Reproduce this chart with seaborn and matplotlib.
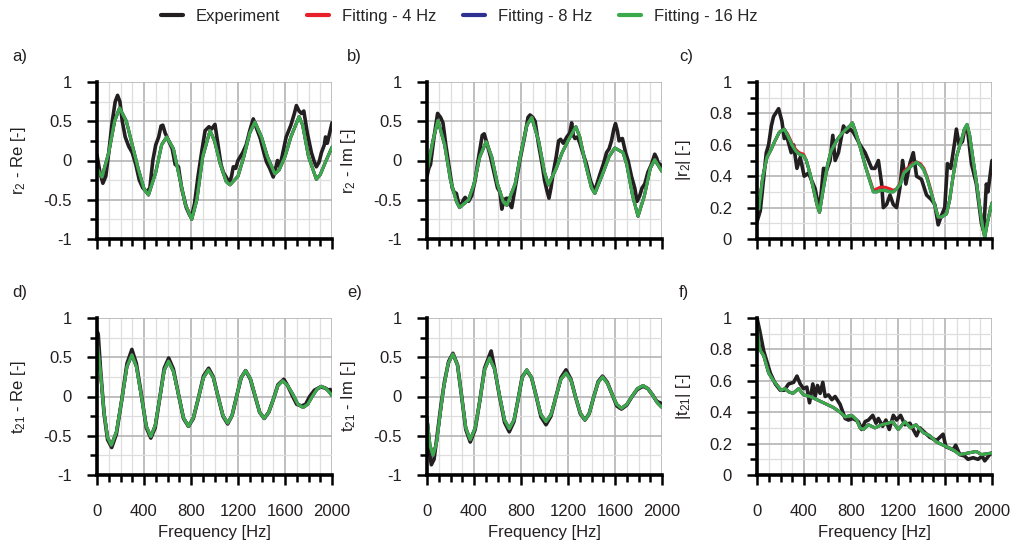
import numpy as np
import pandas as pd
import matplotlib
matplotlib.use("Agg")
import matplotlib.pyplot as plt
from matplotlib.ticker import MultipleLocator
from matplotlib.lines import Line2D
import seaborn as sns

# ---------------- data ----------------
# a) r2 - Re
a_exp_f = [0, 25, 50, 75, 100, 130, 155, 175, 195, 215, 240, 270, 300, 330, 360, 390, 424, 450, 475, 500,
           525, 545, 560, 580, 610, 640, 665, 693, 720, 760, 790, 806, 830, 860, 890, 920, 953, 975, 1004,
           1030, 1055, 1075, 1103, 1126, 1145, 1160, 1180, 1200, 1240, 1270, 1300, 1330, 1360, 1390, 1420,
           1443, 1470, 1500, 1520, 1536, 1555, 1575, 1610, 1650, 1680, 1697, 1720, 1740, 1760, 1790, 1825,
           1850, 1867, 1890, 1910, 1935, 1945, 1960, 1980, 2000]
a_exp_v = [0.07, -0.15, -0.29, -0.20, 0.10, 0.50, 0.75, 0.83, 0.75, 0.50, 0.30, 0.18, 0.10, -0.05, -0.25,
           -0.35, -0.40, -0.35, 0.00, 0.20, 0.30, 0.44, 0.45, 0.35, 0.25, 0.15, -0.05, -0.08, -0.35, -0.60,
           -0.70, -0.71, -0.55, -0.20, 0.10, 0.38, 0.43, 0.40, 0.46, 0.20, -0.05, -0.15, -0.22, -0.29, -0.20,
           -0.08, -0.10, 0.00, 0.10, 0.20, 0.38, 0.53, 0.40, 0.28, 0.10, -0.02, -0.10, -0.21, -0.10, 0.00,
           -0.08, 0.05, 0.30, 0.45, 0.60, 0.70, 0.63, 0.60, 0.63, 0.35, 0.10, -0.02, -0.08, -0.02, 0.10,
           0.20, 0.30, 0.22, 0.35, 0.48]
a_fit_f = [0, 42, 100, 150, 192, 250, 300, 350, 400, 438, 500, 550, 594, 650, 700, 750, 806, 850, 900, 962,
           1000, 1050, 1100, 1132, 1200, 1250, 1300, 1344, 1400, 1450, 1513, 1550, 1600, 1650, 1720, 1750,
           1800, 1867, 1900, 1950, 2000]
a_fit_v = [-0.10, -0.21, 0.10, 0.50, 0.67, 0.50, 0.20, -0.10, -0.36, -0.44, -0.15, 0.20, 0.30, 0.15, -0.20,
           -0.55, -0.75, -0.50, 0.05, 0.38, 0.25, -0.05, -0.27, -0.31, -0.20, 0.05, 0.35, 0.49, 0.30, 0.05,
           -0.17, -0.12, 0.05, 0.30, 0.56, 0.45, 0.05, -0.24, -0.18, 0.00, 0.17]

# b) r2 - Im
b_exp_f = [0, 15, 30, 60, 90, 115, 136, 160, 190, 215, 230, 250, 270, 290, 310, 325, 340, 354, 380, 410, 440,
           470, 487, 510, 540, 570, 600, 620, 637, 655, 679, 700, 721, 750, 790, 830, 860, 877, 900, 920, 950,
           980, 1000, 1020, 1038, 1055, 1075, 1100, 1120, 1137, 1160, 1190, 1215, 1231, 1245, 1259, 1280, 1301,
           1330, 1358, 1390, 1415, 1429, 1450, 1471, 1500, 1528, 1550, 1570, 1590, 1604, 1620, 1635, 1650,
           1663, 1690, 1711, 1740, 1768, 1788, 1810, 1830, 1853, 1880, 1910, 1938, 1955, 1966, 1985, 2000]
b_exp_v = [-0.20, -0.10, -0.05, 0.30, 0.60, 0.55, 0.48, 0.20, -0.10, -0.35, -0.40, -0.42, -0.55, -0.58,
           -0.50, -0.47, -0.50, -0.52, -0.45, -0.25, 0.05, 0.32, 0.34, 0.22, 0.05, -0.15, -0.35, -0.40, -0.62,
           -0.50, -0.48, -0.55, -0.60, -0.35, 0.00, 0.30, 0.55, 0.58, 0.55, 0.50, 0.20, -0.05, -0.25, -0.38,
           -0.48, -0.35, -0.15, 0.05, 0.25, 0.27, 0.22, 0.30, 0.35, 0.48, 0.32, 0.28, 0.30, 0.22, 0.08, -0.05,
           -0.25, -0.35, -0.38, -0.28, -0.18, -0.05, 0.10, 0.15, 0.25, 0.40, 0.47, 0.38, 0.25, 0.27, 0.28,
           0.10, 0.00, -0.20, -0.35, -0.52, -0.45, -0.35, -0.30, -0.15, -0.05, 0.08, 0.03, -0.03, -0.05, -0.10]
b_fit_f = [0, 50, 93, 150, 200, 250, 277, 354, 400, 450, 504, 550, 600, 650, 679, 750, 800, 850, 891, 950,
           1000, 1033, 1100, 1150, 1200, 1267, 1300, 1350, 1400, 1429, 1500, 1550, 1598, 1669, 1700, 1750,
           1796, 1850, 1900, 1938, 2000]
b_fit_v = [-0.14, 0.25, 0.51, 0.20, -0.25, -0.52, -0.60, -0.50, -0.30, 0.05, 0.24, 0.05, -0.30, -0.53, -0.57,
           -0.30, 0.10, 0.45, 0.55, 0.25, -0.15, -0.31, -0.10, 0.10, 0.25, 0.43, 0.30, -0.05, -0.35, -0.42,
           -0.15, 0.05, 0.16, 0.10, -0.05, -0.45, -0.71, -0.45, -0.10, 0.01, -0.14]

# c) |r2|
c_exp_f = [0, 28, 79, 99, 122, 141, 184, 212, 232, 255, 291, 311, 340, 368, 402, 438, 495, 532, 566, 594,
           622, 645, 665, 693, 736, 764, 792, 820, 877, 920, 948, 976, 1004, 1033, 1061, 1075, 1103, 1132,
           1160, 1188, 1217, 1239, 1267, 1301, 1330, 1358, 1400, 1443, 1485, 1513, 1542, 1570, 1598, 1621,
           1649, 1683, 1697, 1720, 1748, 1768, 1788, 1825, 1867, 1910, 1929, 1952, 1966, 2000]
c_exp_v = [0.11, 0.18, 0.55, 0.60, 0.72, 0.78, 0.83, 0.75, 0.64, 0.65, 0.55, 0.60, 0.45, 0.52, 0.40, 0.42,
           0.32, 0.18, 0.45, 0.44, 0.50, 0.66, 0.50, 0.55, 0.72, 0.68, 0.70, 0.68, 0.60, 0.55, 0.50, 0.45,
           0.45, 0.50, 0.35, 0.20, 0.22, 0.28, 0.22, 0.20, 0.33, 0.50, 0.35, 0.48, 0.55, 0.40, 0.38, 0.28,
           0.25, 0.22, 0.09, 0.15, 0.20, 0.48, 0.45, 0.62, 0.70, 0.60, 0.62, 0.70, 0.72, 0.48, 0.35, 0.10,
           0.05, 0.35, 0.30, 0.50]
c_fit_f = [0, 15, 50, 85, 120, 150, 190, 232, 260, 297, 330, 360, 396, 420, 450, 480, 510, 532, 560, 600,
           630, 680, 720, 760, 790, 812, 840, 880, 920, 960, 990, 1020, 1050, 1090, 1130, 1160, 1190, 1220,
           1250, 1280, 1320, 1358, 1390, 1420, 1450, 1480, 1510, 1542, 1570, 1613, 1640, 1669, 1700, 1740,
           1765, 1788, 1810, 1840, 1870, 1900, 1920, 1938, 1960, 1980, 2000]
c_fit16_v = [0.22, 0.19, 0.40, 0.52, 0.57, 0.62, 0.68, 0.70, 0.66, 0.60, 0.56, 0.54, 0.53, 0.50, 0.42, 0.32,
             0.22, 0.17, 0.30, 0.47, 0.56, 0.63, 0.67, 0.70, 0.72, 0.74, 0.68, 0.58, 0.47, 0.37, 0.30, 0.30,
             0.31, 0.31, 0.30, 0.30, 0.32, 0.35, 0.42, 0.44, 0.47, 0.49, 0.47, 0.44, 0.38, 0.30, 0.22, 0.14,
             0.14, 0.16, 0.25, 0.40, 0.53, 0.63, 0.70, 0.73, 0.66, 0.50, 0.35, 0.18, 0.08, 0.01, 0.10, 0.17,
             0.23]
c_fit4_v = [0.26, 0.21, 0.40, 0.52, 0.57, 0.62, 0.68, 0.70, 0.67, 0.61, 0.57, 0.55, 0.54, 0.50, 0.42, 0.32,
            0.22, 0.17, 0.30, 0.47, 0.56, 0.63, 0.67, 0.70, 0.72, 0.74, 0.68, 0.58, 0.47, 0.38, 0.31, 0.32,
            0.33, 0.33, 0.32, 0.31, 0.32, 0.36, 0.43, 0.45, 0.48, 0.49, 0.48, 0.45, 0.39, 0.31, 0.22, 0.14,
            0.14, 0.16, 0.25, 0.40, 0.53, 0.63, 0.69, 0.72, 0.66, 0.50, 0.35, 0.18, 0.08, 0.01, 0.10, 0.17,
            0.23]

# d) t21 - Re
d_exp_f = [0, 10, 30, 60, 90, 125, 165, 210, 255, 297, 335, 378, 420, 458, 495, 533, 572, 610, 650, 693,
           736, 778, 820, 863, 906, 950, 990, 1030, 1072, 1112, 1150, 1188, 1227, 1265, 1305, 1344, 1384,
           1423, 1462, 1500, 1540, 1590, 1622, 1666, 1700, 1740, 1775, 1810, 1850, 1900, 1940, 1970, 1985, 2000]
d_exp_v = [0.83, 0.80, 0.35, -0.22, -0.55, -0.65, -0.48, -0.05, 0.42, 0.60, 0.42, 0.02, -0.40, -0.53,
           -0.40, -0.03, 0.36, 0.49, 0.35, 0.03, -0.28, -0.38, -0.28, -0.02, 0.26, 0.36, 0.25, 0.00, -0.25,
           -0.35, -0.24, 0.00, 0.24, 0.33, 0.22, 0.01, -0.20, -0.28, -0.20, -0.04, 0.15, 0.22, 0.14, 0.00,
           -0.10, -0.12, -0.10, 0.00, 0.08, 0.12, 0.11, 0.08, 0.09, 0.05]
d_fit_f = [0, 30, 60, 90, 122, 165, 210, 255, 297, 335, 378, 420, 458, 495, 533, 572, 608, 650, 693, 736,
           778, 820, 863, 906, 948, 990, 1030, 1072, 1112, 1150, 1188, 1227, 1265, 1305, 1344, 1384, 1423,
           1462, 1500, 1540, 1579, 1622, 1666, 1710, 1754, 1793, 1832, 1871, 1910, 1950, 1980, 2000]
d_fit_v = [0.72, 0.30, -0.20, -0.52, -0.62, -0.45, -0.05, 0.38, 0.53, 0.38, 0.00, -0.38, -0.51, -0.37,
           -0.03, 0.33, 0.45, 0.32, 0.03, -0.27, -0.38, -0.27, -0.02, 0.24, 0.34, 0.24, 0.00, -0.24, -0.34,
           -0.24, 0.00, 0.24, 0.33, 0.23, 0.02, -0.20, -0.28, -0.20, -0.04, 0.14, 0.20, 0.14, 0.03, -0.10,
           -0.14, -0.10, 0.00, 0.09, 0.13, 0.10, 0.05, 0.01]

# e) t21 - Im
e_exp_f = [0, 20, 37, 60, 90, 120, 150, 185, 221, 260, 295, 330, 368, 410, 450, 490, 530, 546, 575, 615,
           660, 700, 740, 775, 810, 849, 890, 930, 970, 1013, 1055, 1098, 1140, 1183, 1225, 1263, 1305, 1344,
           1380, 1420, 1457, 1494, 1535, 1575, 1615, 1655, 1700, 1745, 1790, 1839, 1880, 1920, 1950, 1966,
           1985, 2000]
e_exp_v = [-0.30, -0.70, -0.87, -0.80, -0.45, -0.10, 0.20, 0.45, 0.55, 0.40, 0.00, -0.42, -0.58, -0.42,
           -0.05, 0.36, 0.52, 0.58, 0.36, 0.02, -0.33, -0.45, -0.32, -0.04, 0.25, 0.33, 0.24, 0.00, -0.26,
           -0.36, -0.25, 0.00, 0.24, 0.34, 0.22, 0.00, -0.22, -0.30, -0.22, 0.00, 0.19, 0.26, 0.18, 0.03,
           -0.12, -0.16, -0.11, 0.00, 0.09, 0.13, 0.10, 0.02, -0.05, -0.07, -0.08, -0.12]
e_fit_f = [0, 25, 51, 80, 110, 140, 180, 221, 260, 295, 330, 368, 410, 450, 490, 532, 575, 615, 660, 700,
           740, 775, 810, 849, 890, 930, 970, 1013, 1055, 1098, 1140, 1183, 1225, 1263, 1305, 1344, 1380,
           1420, 1457, 1494, 1535, 1575, 1615, 1655, 1700, 1745, 1790, 1839, 1880, 1920, 1960, 2000]
e_fit_v = [-0.27, -0.62, -0.75, -0.60, -0.25, 0.10, 0.42, 0.54, 0.40, 0.00, -0.40, -0.55, -0.40, -0.05,
           0.34, 0.49, 0.35, 0.03, -0.30, -0.41, -0.30, -0.04, 0.24, 0.34, 0.24, 0.00, -0.23, -0.32, -0.23,
           0.00, 0.22, 0.30, 0.21, 0.00, -0.21, -0.30, -0.22, 0.00, 0.18, 0.25, 0.17, 0.03, -0.10, -0.15,
           -0.10, 0.00, 0.10, 0.14, 0.10, 0.02, -0.08, -0.14]

# f) |t21|
f_exp_f = [0, 23, 57, 113, 156, 198, 232, 269, 311, 340, 368, 396, 424, 447, 475, 495, 515, 537, 560, 580,
           608, 637, 665, 707, 750, 778, 815, 863, 891, 920, 948, 985, 1013, 1033, 1069, 1097, 1126, 1160,
           1188, 1222, 1259, 1301, 1358, 1386, 1429, 1471, 1528, 1584, 1607, 1641, 1669, 1691, 1726, 1768,
           1796, 1839, 1881, 1917, 1938, 1980, 2000]
f_exp_v = [1.00, 0.92, 0.79, 0.65, 0.58, 0.54, 0.54, 0.58, 0.59, 0.63, 0.58, 0.55, 0.56, 0.46, 0.58, 0.50,
           0.57, 0.52, 0.59, 0.50, 0.51, 0.48, 0.50, 0.45, 0.36, 0.35, 0.36, 0.34, 0.29, 0.34, 0.35, 0.38,
           0.33, 0.36, 0.31, 0.35, 0.29, 0.38, 0.35, 0.38, 0.32, 0.33, 0.25, 0.30, 0.27, 0.24, 0.22, 0.26,
           0.18, 0.17, 0.16, 0.19, 0.13, 0.12, 0.10, 0.11, 0.10, 0.12, 0.09, 0.13, 0.14]
f_fit_f = [0, 23, 57, 99, 141, 184, 204, 240, 269, 306, 354, 396, 453, 509, 594, 650, 707, 750, 806, 849,
           877, 905, 948, 1004, 1061, 1117, 1154, 1202, 1259, 1307, 1353, 1415, 1471, 1528, 1613, 1669, 1726,
           1796, 1867, 1910, 2000]
f_fit_v = [0.94, 0.80, 0.76, 0.65, 0.60, 0.56, 0.54, 0.55, 0.53, 0.52, 0.55, 0.51, 0.50, 0.48, 0.45, 0.43,
           0.40, 0.37, 0.38, 0.35, 0.30, 0.29, 0.32, 0.30, 0.32, 0.33, 0.34, 0.29, 0.34, 0.30, 0.32, 0.27,
           0.25, 0.21, 0.18, 0.16, 0.13, 0.14, 0.15, 0.13, 0.14]

legend_labels = ["Experiment", "Fitting - 4 Hz", "Fitting - 8 Hz", "Fitting - 16 Hz"]
panel_letters = ["a)", "b)", "c)", "d)", "e)", "f)"]
y_labels = ["r$_2$ - Re [-]", "r$_2$ - Im [-]", "|r$_2$| [-]",
            "t$_{21}$ - Re [-]", "t$_{21}$ - Im [-]", "|t$_{21}$| [-]"]
x_label = "Frequency [Hz]"

# ---------------- style ----------------
sns.set_theme(style="white")
plt.rcParams['font.family'] = ['Liberation Sans', 'DejaVu Sans']
plt.rcParams['mathtext.fontset'] = 'custom'
plt.rcParams['mathtext.rm'] = 'Liberation Sans'
plt.rcParams['mathtext.it'] = 'Liberation Sans'
plt.rcParams['mathtext.default'] = 'regular'

C_EXP = "#231f20"
C_4 = "#e8202a"
C_8 = "#2e3192"
C_16 = "#3aaa4a"
TXT = "#231f20"
FS = 12

fig = plt.figure(figsize=(10.14, 5.43), dpi=100)

lefts = [97 / 1014, 427 / 1014, 757 / 1014]
letter_offsets = [85 / 1014, 80 / 1014, 78 / 1014]
width = 235 / 1014
height = 157 / 543
bottoms = [1 - 239 / 543, 1 - 475 / 543]

panels = [
    (a_exp_f, a_exp_v, a_fit_f, a_fit_v, a_fit_v, a_fit_v, False),
    (b_exp_f, b_exp_v, b_fit_f, b_fit_v, b_fit_v, b_fit_v, False),
    (c_exp_f, c_exp_v, c_fit_f, c_fit4_v, c_fit16_v, c_fit16_v, True),
    (d_exp_f, d_exp_v, d_fit_f, d_fit_v, d_fit_v, d_fit_v, False),
    (e_exp_f, e_exp_v, e_fit_f, e_fit_v, e_fit_v, e_fit_v, False),
    (f_exp_f, f_exp_v, f_fit_f, f_fit_v, f_fit_v, f_fit_v, True),
]

for i, (ef, ev, ff, f4, f8, f16, mag) in enumerate(panels):
    row, col = divmod(i, 3)
    ax = fig.add_axes([lefts[col], bottoms[row], width, height])
    ax.set_axisbelow(True)
    sns.lineplot(x=ef, y=ev, ax=ax, color=C_EXP, lw=2.6, estimator=None, sort=False, legend=False)
    sns.lineplot(x=ff, y=f4, ax=ax, color=C_4, lw=2.2, estimator=None, sort=False, legend=False)
    sns.lineplot(x=ff, y=f8, ax=ax, color=C_8, lw=2.2, estimator=None, sort=False, legend=False)
    sns.lineplot(x=ff, y=f16, ax=ax, color=C_16, lw=2.2, estimator=None, sort=False, legend=False)

    ax.set_xlim(0, 2000)
    ax.xaxis.set_major_locator(MultipleLocator(400))
    ax.xaxis.set_minor_locator(MultipleLocator(100))
    if mag:
        ax.set_ylim(0, 1)
        ax.yaxis.set_major_locator(MultipleLocator(0.2))
        ax.yaxis.set_minor_locator(MultipleLocator(0.1))
        ax.yaxis.set_major_formatter(plt.FuncFormatter(
            lambda v, p: "0" if abs(v) < 1e-9 else ("1" if abs(v - 1) < 1e-9 else f"{v:.1f}")))
    else:
        ax.set_ylim(-1, 1)
        ax.yaxis.set_major_locator(MultipleLocator(0.5))
        ax.yaxis.set_minor_locator(MultipleLocator(0.25))
        ax.yaxis.set_major_formatter(plt.FuncFormatter(lambda v, p: f"{v:g}"))

    ax.grid(which='major', color='#b4b4b4', lw=1.2)
    ax.grid(which='minor', color='#dedede', lw=0.9)
    for s in ['top', 'right']:
        ax.spines[s].set_visible(False)
    for s in ['left', 'bottom']:
        ax.spines[s].set_visible(True)
        ax.spines[s].set_color('black')
        ax.spines[s].set_linewidth(2.6)
        ax.spines[s].set_zorder(5)
    ax.tick_params(which='both', direction='out', left=True, bottom=True, color='black', width=1.8,
                   labelsize=FS, labelcolor=TXT)
    ax.tick_params(which='major', length=7)
    ax.tick_params(which='minor', length=5)
    ax.tick_params(axis='y', which='major', pad=11)
    ax.tick_params(axis='x', which='major', pad=14)
    if row == 0:
        ax.tick_params(axis='x', labelbottom=False)
        ax.set_xlabel("")
    else:
        ax.set_xlabel(x_label, fontsize=FS, color=TXT, labelpad=4)
    ax.set_ylabel(y_labels[i], fontsize=FS, color=TXT)
    label_right = 69 / 235 if not mag else 64 / 235
    ax.yaxis.set_label_coords(-label_right, 0.5)
    fig.text(lefts[col] - letter_offsets[col], bottoms[row] + height + 26 / 543, panel_letters[i],
             fontsize=FS, color=TXT, va='center', ha='left')

handles = [Line2D([0], [0], color=c, lw=3) for c in [C_EXP, C_4, C_8, C_16]]
fig.legend(handles, legend_labels, loc='center', bbox_to_anchor=(0.453, 1 - 16 / 543), ncol=4,
           frameon=False, fontsize=FS, handlelength=1.3, columnspacing=1.6, handletextpad=0.8)

fig.savefig("out.png", dpi=100)
